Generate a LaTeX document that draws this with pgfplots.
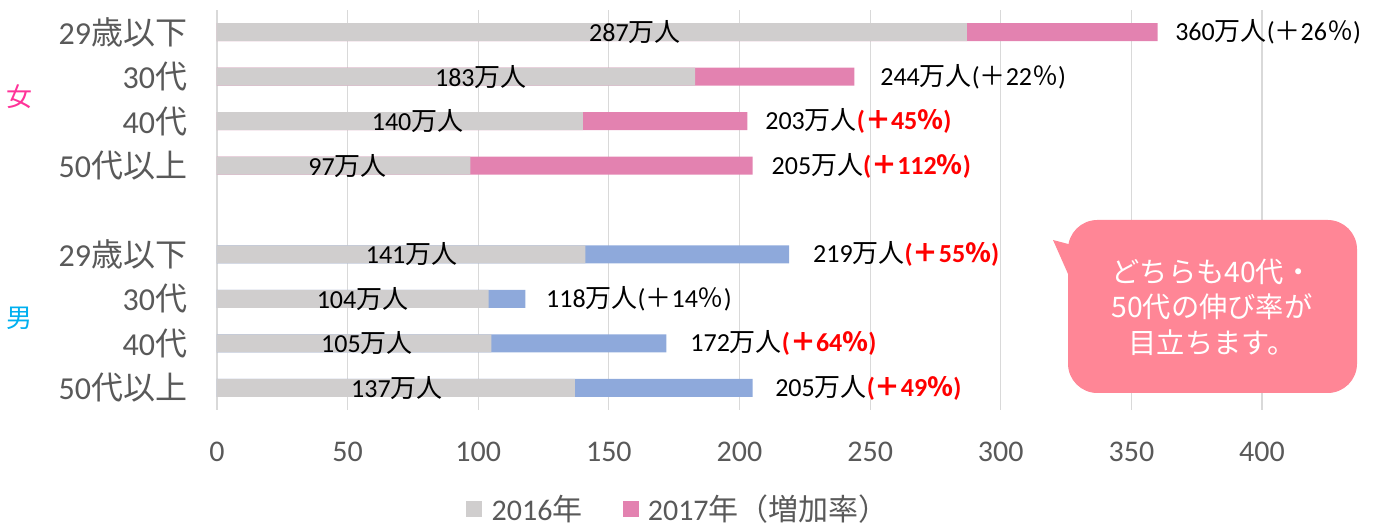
\documentclass[border=0pt]{standalone}
\usepackage{pgfplots}
\pgfplotsset{compat=1.18}
\usepackage{fontspec}
\setmainfont{Carlito}
\newfontfamily\jp{Noto Sans CJK JP}
\definecolor{bargray}{RGB}{208,206,206}
\definecolor{barpink}{RGB}{227,130,176}
\definecolor{barblue}{RGB}{142,169,219}
\definecolor{txtgray}{RGB}{89,89,89}
\definecolor{gridgray}{RGB}{217,217,217}
\definecolor{bubble}{RGB}{255,134,150}
\definecolor{femc}{RGB}{255,51,153}
\definecolor{malec}{RGB}{0,176,240}
\newcommand\dl{\fontsize{19.5}{22}\selectfont}
\newcommand\pct[1]{({\jp ＋}#1{\jp ％})}
\newcommand\rpct[1]{{\color{red}\bfseries({\jp ＋}#1{\jp ％})}}
\newcommand\man{{\jp 万人}}
\begin{document}
\begin{tikzpicture}
\path[use as bounding box] (-162.75pt,-87.75pt) rectangle (869.25pt,307.5pt);
\begin{axis}[
  scale only axis, x=1.9594pt, y=33.3333pt, y dir=reverse,
  xmin=0, xmax=420, ymin=-0.5, ymax=8.5,
  xbar, bar width=13.5pt, bar shift=0pt,
  axis line style={draw=none}, tick style={draw=none},
  xmajorgrids, grid style={gridgray, line width=0.9pt},
  xtick={0,50,...,400},
  ytick={0,1,2,3,5,6,7,8},
  yticklabels={29{\jp 歳以下},30{\jp 代},40{\jp 代},50{\jp 代以上},29{\jp 歳以下},30{\jp 代},40{\jp 代},50{\jp 代以上}},
  /pgf/number format/assume math mode=true,
  xticklabel style={font=\fontsize{22.5}{26}\selectfont, text=txtgray, anchor=center, yshift=-31.5pt, inner sep=0pt},
  yticklabel style={font=\fontsize{24}{28}\selectfont, text=txtgray, anchor=east, inner sep=0pt, xshift=-18pt},
  clip=false,
  legend columns=2,
  legend image code/.code={\fill[#1] (0pt,-6pt) rectangle (12pt,6pt);},
  legend style={draw=none, fill=none, at={(0.227,-0.2475)}, anchor=west, inner sep=0pt,
    font=\fontsize{22.5}{26}\selectfont, text=txtgray,
    /tikz/every odd column/.append style={column sep=5pt},
    /tikz/every even column/.append style={column sep=28pt}},
]
\addlegendimage{fill=bargray, draw=none}
\addlegendimage{fill=barpink, draw=none}
\addplot[fill=barpink, draw=none, forget plot] coordinates {(360,0) (244,1) (203,2) (205,3)};
\addplot[fill=barblue, draw=none, forget plot] coordinates {(219,5) (118,6) (172,7) (205,8)};
\addplot[fill=bargray, draw=none, forget plot] coordinates {(287,0) (183,1) (140,2) (97,3) (141,5) (104,6) (105,7) (137,8)};
\legend{2016{\jp 年},2017{\jp 年（増加率）}}
% 2016 labels
\node[font=\dl] at (axis cs:160,0) {287\man};
\node[font=\dl] at (axis cs:101,1) {183\man};
\node[font=\dl] at (axis cs:76.8,2) {140\man};
\node[font=\dl] at (axis cs:50,3) {97\man};
\node[font=\dl] at (axis cs:74.5,5) {141\man};
\node[font=\dl] at (axis cs:55.7,6) {104\man};
\node[font=\dl] at (axis cs:57.4,7) {105\man};
\node[font=\dl] at (axis cs:68.9,8) {137\man};
% 2017 labels
\node[font=\dl, anchor=west, inner sep=0pt] at (axis cs:366.7,0) {360\man\pct{26}};
\node[font=\dl, anchor=west, inner sep=0pt] at (axis cs:253.8,1) {244\man\pct{22}};
\node[font=\dl, anchor=west, inner sep=0pt] at (axis cs:209.8,2) {203\man\rpct{45}};
\node[font=\dl, anchor=west, inner sep=0pt] at (axis cs:212.2,3) {205\man\rpct{112}};
\node[font=\dl, anchor=west, inner sep=0pt] at (axis cs:228.1,5) {219\man\rpct{55}};
\node[font=\dl, anchor=west, inner sep=0pt] at (axis cs:125.9,6) {118\man\pct{14}};
\node[font=\dl, anchor=west, inner sep=0pt] at (axis cs:181.1,7) {172\man\rpct{64}};
\node[font=\dl, anchor=west, inner sep=0pt] at (axis cs:213.6,8) {205\man\rpct{49}};
\end{axis}
% group labels
\node[text=femc, font=\jp\fontsize{19.5}{22}\selectfont] at (-147.75pt,234.75pt) {女};
\node[text=malec, font=\jp\fontsize{19.5}{22}\selectfont] at (-147.75pt,69pt) {男};
% callout
\fill[bubble, rounded corners=22pt] (638.25pt,12.75pt) rectangle (855pt,142.5pt);
\fill[bubble] (627pt,127.5pt) -- (648pt,122pt) -- (648pt,80pt) -- cycle;
\node[text=white, align=center, font=\jp\fontsize{21.2}{26.5}\selectfont] at (746.25pt,77.25pt)
  {どちらも40代・\\50代の伸び率が\\目立ちます。};
\end{tikzpicture}
\end{document}
